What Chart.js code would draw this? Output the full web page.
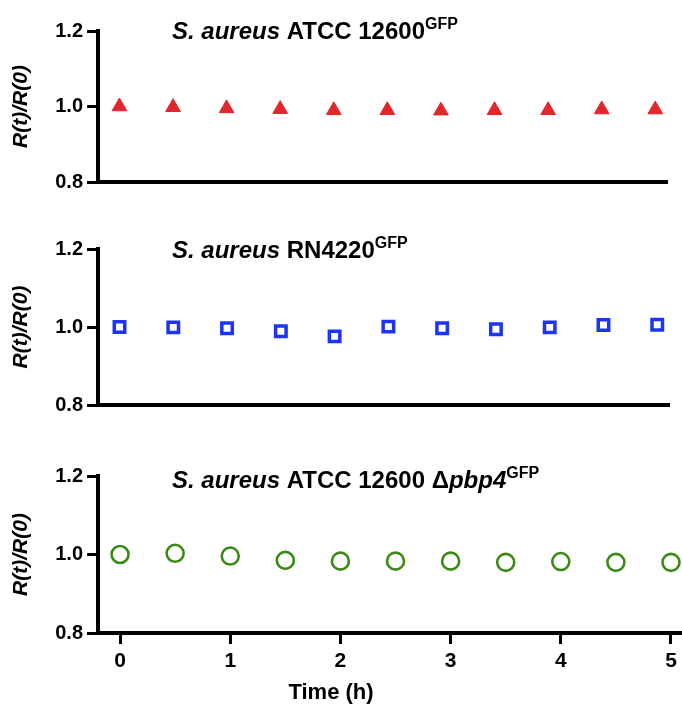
<!DOCTYPE html>
<html>
<head>
<meta charset="utf-8">
<script src="https://cdn.jsdelivr.net/npm/chart.js@4.4.1/dist/chart.umd.min.js"></script>
<style>
  html, body { margin: 0; padding: 0; background: #fff; }
  #wrap { position: relative; width: 682px; height: 708px; }
  #wrap canvas { position: absolute; left: 0; top: 0; }
</style>
</head>
<body>
<div id="wrap">
  <canvas id="atccChart" width="682" height="708"></canvas>
  <canvas id="rnChart" width="682" height="708"></canvas>
  <canvas id="pbpChart" width="682" height="708"></canvas>
</div>
<script>
// Data
const timeH = [0, 0.5, 1, 1.5, 2, 2.5, 3, 3.5, 4, 4.5, 5];
const atccValues = [1.000, 0.998, 0.995, 0.993, 0.990, 0.990, 0.989, 0.990, 0.990, 0.992, 0.992];
const rn4220Values = [1.000, 0.999, 0.997, 0.989, 0.976, 1.001, 0.997, 0.994, 0.999, 1.005, 1.006];
const pbp4Values = [1.000, 1.003, 0.996, 0.985, 0.983, 0.983, 0.983, 0.980, 0.982, 0.980, 0.980];
const yTicks = [0.8, 1.0, 1.2];
const xTicks = [0, 1, 2, 3, 4, 5];

const FONT = '"Liberation Sans", Arial, Helvetica, sans-serif';

// Title pieces: italic / superscript runs
const atccTitle = [
  { t: 'S. aureus', italic: true },
  { t: ' ATCC 12600' },
  { t: 'GFP', sup: true }
];
const rnTitle = [
  { t: 'S. aureus', italic: true },
  { t: ' RN4220' },
  { t: 'GFP', sup: true }
];
const pbpTitle = [
  { t: 'S. aureus', italic: true },
  { t: ' ATCC 12600 \u0394' },
  { t: 'pbp4', italic: true },
  { t: 'GFP', sup: true }
];

// draws the mixed-style panel title (and the x axis title on the last panel)
const richTitle = {
  id: 'richTitle',
  afterDraw(chart, args, opts) {
    const ctx = chart.ctx;
    const area = chart.chartArea;
    ctx.save();
    ctx.fillStyle = '#000';
    ctx.textBaseline = 'alphabetic';
    let x = area.left + opts.dx;
    const y = area.top + opts.dy;
    opts.segments.forEach(s => {
      const size = s.sup ? 16 : 24;
      ctx.font = `${s.italic ? 'italic ' : ''}bold ${size}px ${FONT}`;
      ctx.fillText(s.t, x, s.sup ? y - 10 : y);
      x += ctx.measureText(s.t).width;
    });
    if (opts.xTitle) {
      ctx.font = `bold 22px ${FONT}`;
      ctx.textAlign = 'center';
      ctx.fillText(opts.xTitle, area.left + 233, area.bottom + 66);
    }
    ctx.restore();
  }
};

function makePanel(id, values, style, pad, titleSegs, titleDy, showX) {
  return new Chart(document.getElementById(id), {
    type: 'scatter',
    data: {
      datasets: [{
        data: timeH.map((t, i) => ({ x: t, y: values[i] })),
        pointStyle: style.shape,
        pointRadius: style.radius,
        pointHoverRadius: style.radius,
        pointBorderWidth: style.border,
        borderColor: style.color,
        backgroundColor: style.fill,
        showLine: false,
        clip: false
      }]
    },
    options: {
      responsive: false,
      animation: false,
      devicePixelRatio: 1,
      layout: { padding: pad, autoPadding: false },
      plugins: {
        legend: { display: false },
        tooltip: { enabled: false },
        richTitle: { segments: titleSegs, dx: 74, dy: titleDy, xTitle: showX ? 'Time (h)' : null }
      },
      scales: {
        x: {
          type: 'linear',
          min: -0.2,
          max: 5.1,
          afterBuildTicks: s => { s.ticks = xTicks.map(v => ({ value: v })); },
          afterFit: s => { s.height = showX ? 40 : 0; s.paddingLeft = 0; s.paddingRight = 0; },
          border: { display: true, color: '#000', width: 4 },
          grid: { display: showX, drawOnChartArea: false, drawTicks: true, tickLength: 11, lineWidth: 3, color: '#000' },
          ticks: {
            display: showX,
            padding: 5,
            color: '#000',
            font: { family: FONT, size: 21, weight: 'bold' },
            callback: v => String(v)
          }
        },
        y: {
          min: 0.8,
          max: 1.2,
          afterBuildTicks: s => { s.ticks = yTicks.map(v => ({ value: v })); },
          afterFit: s => { s.width = 98; s.paddingTop = 0; s.paddingBottom = 0; },
          border: { display: true, color: '#000', width: 4 },
          grid: { drawOnChartArea: false, drawTicks: true, tickLength: 11, lineWidth: 3, color: '#000' },
          ticks: {
            padding: 4,
            color: '#000',
            font: { family: FONT, size: 20, weight: 'bold' },
            callback: v => Number(v).toFixed(1)
          },
          title: {
            display: true,
            text: 'R(t)/R(0)',
            color: '#000',
            padding: { top: 9, bottom: 0 },
            font: { family: FONT, size: 21, weight: 'bold', style: 'italic' }
          }
        }
      }
    },
    plugins: [richTitle]
  });
}

makePanel('atccChart', atccValues,
  { shape: 'triangle', radius: 8.5, border: 1, color: '#e3262b', fill: '#e3262b' },
  { left: 0, top: 31, right: 16, bottom: 526 }, atccTitle, 8, false);

makePanel('rnChart', rn4220Values,
  { shape: 'rect', radius: 7.4, border: 3.5, color: '#1d34f5', fill: '#ffffff' },
  { left: 0, top: 249, right: 14, bottom: 303 }, rnTitle, 9, false);

makePanel('pbpChart', pbp4Values,
  { shape: 'circle', radius: 8.5, border: 2.6, color: '#3a8a14', fill: '#ffffff' },
  { left: 0, top: 476, right: 0, bottom: 35 }, pbpTitle, 12, true);
</script>
</body>
</html>
